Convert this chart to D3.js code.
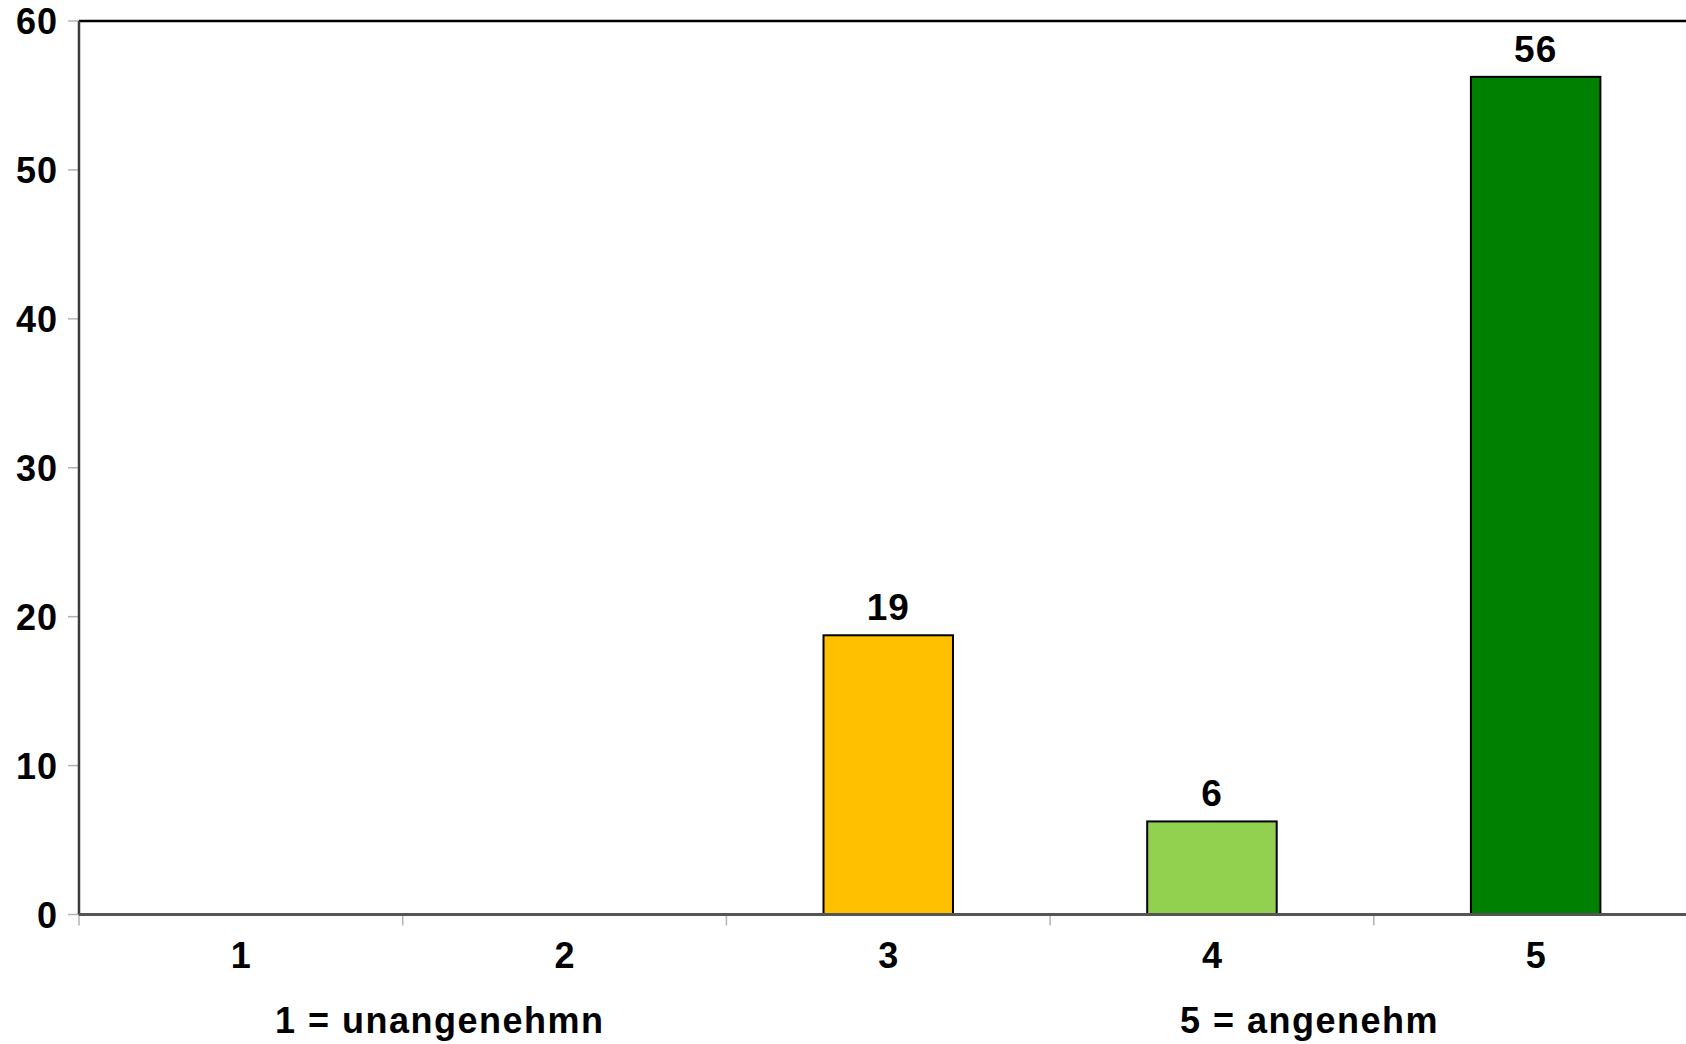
<!DOCTYPE html>
<html>
<head>
<meta charset="utf-8">
<script src="https://cdn.jsdelivr.net/npm/d3@7"></script>
<style>
  html, body { margin: 0; padding: 0; background: #fff; }
  svg { display: block; }
  text { font-family: "Liberation Sans", Arial, sans-serif; font-weight: bold; fill: #000; }
</style>
</head>
<body>
<svg id="chart" width="1686" height="1044"></svg>
<script>
const categories = ["1", "2", "3", "4", "5"];
const values = [0, 0, 18.75, 6.25, 56.25];
const colors = ["#FFC000", "#FFC000", "#FFC000", "#92D050", "#008000"];
const yTicks = [0, 10, 20, 30, 40, 50, 60];
const footLabels = ["1 = unangenehmn", "5 = angenehm"];

(function () {
const W = 1686, H = 1044;
const mLeft = 79, mTop = 21, mBottom = 914.5;
const bandW = 323.7;
const mRight = mLeft + bandW * categories.length;

const svg = d3.select("#chart");

const x = d3.scaleBand().domain(categories).range([mLeft, mRight]).padding(0);
const y = d3.scaleLinear().domain([0, 60]).range([mBottom, mTop]);

// y ticks (gray) and labels
const yAxis = svg.append("g");
yAxis.selectAll("line").data(yTicks).join("line")
  .attr("x1", mLeft - 11).attr("x2", mLeft)
  .attr("y1", d => y(d)).attr("y2", d => y(d))
  .attr("stroke", "#b3b3b3").attr("stroke-width", 1.5);
yAxis.selectAll("text").data(yTicks).join("text")
  .attr("x", 58).attr("y", d => y(d) + 13)
  .attr("text-anchor", "end")
  .attr("font-size", 36).attr("letter-spacing", 1)
  .text(d => d);

// x ticks at band boundaries
const bounds = categories.map(c => x(c));
svg.append("g").selectAll("line").data(bounds).join("line")
  .attr("x1", d => d).attr("x2", d => d)
  .attr("y1", mBottom).attr("y2", mBottom + 11)
  .attr("stroke", "#b3b3b3").attr("stroke-width", 1.5);

// top border
svg.append("line").attr("x1", mLeft).attr("x2", W + 10).attr("y1", y(60)).attr("y2", y(60))
  .attr("stroke", "#000").attr("stroke-width", 2.5);

// bars
const barW = x.bandwidth() * 0.4;
const barData = categories.map((c, i) => ({c, v: values[i], col: colors[i]})).filter(d => d.v > 0);
svg.append("g").selectAll("rect").data(barData)
  .join("rect")
  .attr("x", d => x(d.c) + (x.bandwidth() - barW) / 2)
  .attr("y", d => y(d.v))
  .attr("width", barW)
  .attr("height", d => y(0) - y(d.v))
  .attr("fill", d => d.col)
  .attr("stroke", "#000").attr("stroke-width", 2);

// value labels
svg.append("g").selectAll("text").data(barData)
  .join("text")
  .attr("x", d => x(d.c) + x.bandwidth() / 2)
  .attr("y", d => y(d.v) - 15)
  .attr("text-anchor", "middle")
  .attr("font-size", 37).attr("letter-spacing", 1)
  .text(d => Math.round(d.v));

// axes lines
svg.append("line").attr("x1", mLeft).attr("x2", mLeft).attr("y1", y(60)).attr("y2", mBottom)
  .attr("stroke", "#3a3a3a").attr("stroke-width", 2.5);
svg.append("line").attr("x1", mLeft).attr("x2", W + 10).attr("y1", mBottom).attr("y2", mBottom)
  .attr("stroke", "#555").attr("stroke-width", 3);

// x category labels
svg.append("g").selectAll("text").data(categories).join("text")
  .attr("x", d => x(d) + x.bandwidth() / 2)
  .attr("y", 968)
  .attr("text-anchor", "middle")
  .attr("font-size", 36)
  .text(d => d);

// foot labels
svg.append("text").attr("x", 275).attr("y", 1033).attr("font-size", 36).attr("letter-spacing", 1.5).text(footLabels[0]);
svg.append("text").attr("x", 1180).attr("y", 1033).attr("font-size", 36).attr("letter-spacing", 1.5).text(footLabels[1]);
})();
</script>
</body>
</html>
